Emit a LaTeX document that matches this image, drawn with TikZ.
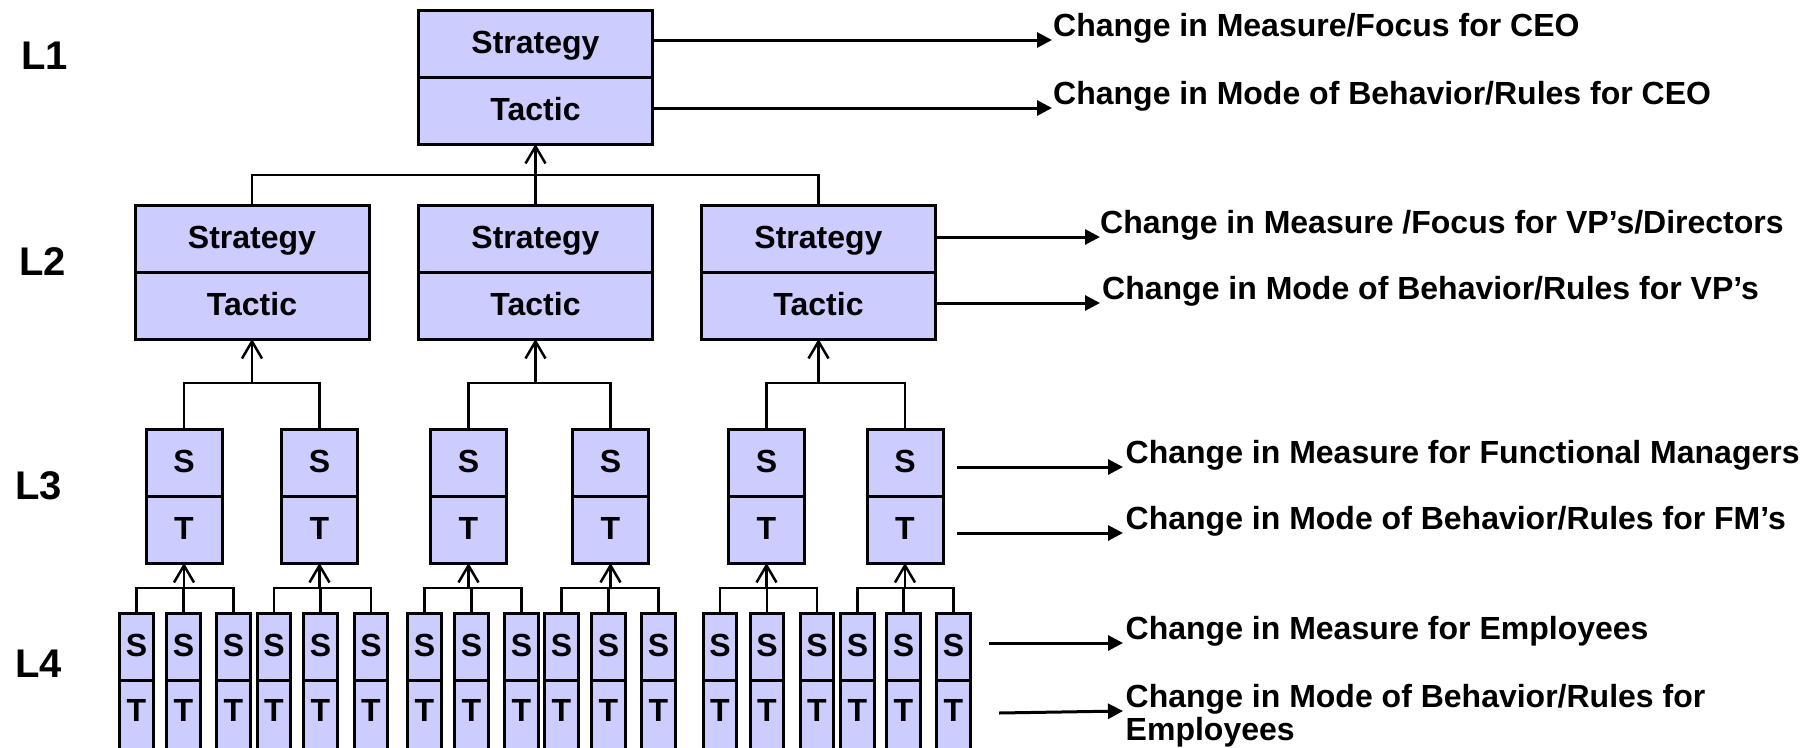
\documentclass[tikz,border=0pt]{standalone}
\usepackage{fontspec}
\setmainfont{Liberation Sans}
\usetikzlibrary{arrows.meta}
\definecolor{boxfill}{HTML}{CCCCFF}

\begin{document}
\begin{tikzpicture}[x=1pt,y=-1pt,
  half/.style={draw=black, line width=3pt, fill=boxfill, inner sep=0pt,
    outer sep=0pt, text height=23pt, text depth=4pt,
    font=\bfseries\fontsize{32}{34}\selectfont, minimum height=67pt},
  wide/.style={half, minimum width=234pt},
  mid/.style={half, minimum width=76pt},
  slim/.style={half, minimum width=33.5pt},
  link/.style={line width=2.5pt},
  uparrow/.style={link, -{Straight Barb[length=17pt,width=20pt]}},
  effect/.style={line width=3pt, -{Triangle[length=15pt,width=15pt]}},
  lbl/.style={anchor=base west, inner sep=0pt, align=left,
    font=\bfseries\fontsize{32}{33}\selectfont},
  lvl/.style={inner sep=0pt, text height=29pt, text depth=0pt,
    font=\bfseries\fontsize{40}{40}\selectfont}
]
\useasboundingbox (0,0) rectangle (1812,747);

% level labels
\node[lvl] (lv1) at (44.5,55)  {L1};
\node[lvl] (lv2) at (42.5,261) {L2};
\node[lvl] (lv3) at (38.5,485) {L3};
\node[lvl] (lv4) at (38.5,663) {L4};

% level 1
\node[wide] (L1s) at (535.5,43.5) {Strategy};
\node[wide, anchor=north] (L1t) at (L1s.south) {Tactic};

% level 2
\foreach \x/\n in {252/a, 535.5/b, 818.5/c}{
  \node[wide] (L2\n s) at (\x,238.5) {Strategy};
  \node[wide, anchor=north] (L2\n t) at (L2\n s.south) {Tactic};
}

% level 3
\foreach \x/\n in {184/1, 319.5/2, 468.5/3, 610.5/4, 766.5/5, 905/6}{
  \node[mid] (L3\n s) at (\x,462.5) {S};
  \node[mid, anchor=north] (L3\n t) at (L3\n s.south) {T};
}

% level 4
\foreach \x [count=\n] in {136.5, 183.5, 233.5, 274, 320.5, 371,
                           424.5, 471.5, 521.5, 561.5, 608.5, 658.5,
                           720, 767, 817, 857.5, 903.5, 953.5}{
  \node[slim] (L4\n s) at (\x,646.5) {S};
  \node[slim, anchor=north, minimum height=70pt, text depth=10pt]
    (L4\n t) at (L4\n s.south) {T};
}

% L2 -> L1
\path (L1t.south) ++(0,31) coordinate (j1);
\draw[uparrow] (j1) -- (L1t.south);
\foreach \n in {a,b,c}{ \draw[link] (L2\n s.north) |- (j1); }

% L3 -> L2
\foreach \p/\c/\d in {a/1/2, b/3/4, c/5/6}{
  \path (L2\p t.south) ++(0,44) coordinate (j2\p);
  \draw[uparrow] (j2\p) -- (L2\p t.south);
  \draw[link] (L3\c s.north) |- (j2\p);
  \draw[link] (L3\d s.north) |- (j2\p);
}

% L4 -> L3
\foreach \g/\a/\b/\c in {1/1/2/3, 2/4/5/6, 3/7/8/9, 4/10/11/12, 5/13/14/15, 6/16/17/18}{
  \path (L3\g t.south) ++(0,25) coordinate (j3\g);
  \draw[uparrow] (j3\g) -- (L3\g t.south);
  \draw[link] (L4\a s.north) |- (j3\g);
  \draw[link] (L4\b s.north) |- (j3\g);
  \draw[link] (L4\c s.north) |- (j3\g);
}

% effects of each level
\coordinate (e1) at (1052,40);
\coordinate (e2) at (1052,108);
\coordinate (e3) at (1100,237);
\coordinate (e4) at (1100,303);
\coordinate (s5) at (957,467);  \coordinate (e5) at (1123,467);
\coordinate (s6) at (957,533);  \coordinate (e6) at (1123,533);
\coordinate (s7) at (989,643);  \coordinate (e7) at (1123,643);
\coordinate (s8) at (999,713);  \coordinate (e8) at (1123,711);

\draw[effect] (L1s.east |- e1) -- (e1);
\draw[effect] (L1t.east |- e2) -- (e2);
\draw[effect] (L2cs.east |- e3) -- (e3);
\draw[effect] (L2ct.east |- e4) -- (e4);
\draw[effect] (s5) -- (e5);
\draw[effect] (s6) -- (e6);
\draw[effect] (s7) -- (e7);
\draw[effect] (s8) -- (e8);

\node[lbl] (t1) at (1053,36.5)   {Change in Measure/Focus for CEO};
\node[lbl] (t2) at (1053,104.5)  {Change in Mode of Behavior/Rules for CEO};
\node[lbl] (t3) at (1100,233.5)  {Change in Measure /Focus for VP’s/Directors};
\node[lbl] (t4) at (1102,299.5)  {Change in Mode of Behavior/Rules for VP’s};
\node[lbl] (t5) at (1125.5,463.5) {Change in Measure for Functional Managers};
\node[lbl] (t6) at (1125.5,529.5) {Change in Mode of Behavior/Rules for FM’s};
\node[lbl] (t7) at (1125.5,639.5) {Change in Measure for Employees};
\node[lbl] (t8) at (1125.5,740)   {Change in Mode of Behavior/Rules for\\Employees};
\end{tikzpicture}
\end{document}
